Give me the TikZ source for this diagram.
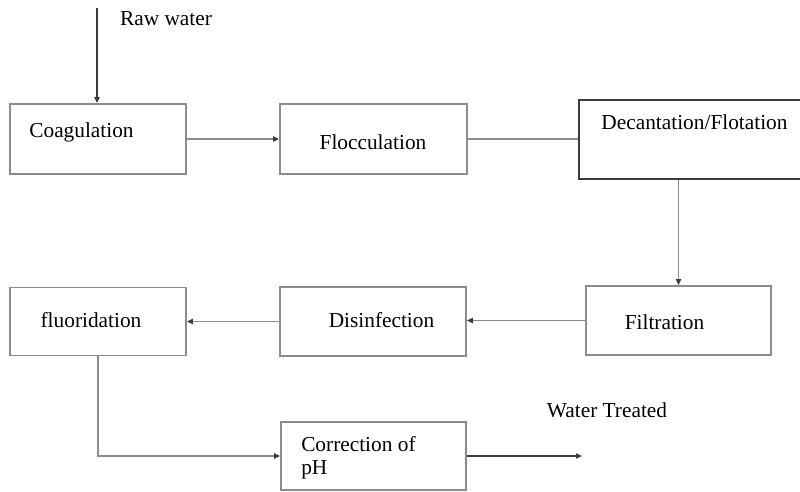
\documentclass[tikz,border=0pt]{standalone}
\usepackage{fontspec}
\setmainfont{Liberation Serif}
\usepackage{xcolor}
\usepackage{tikz}
\usetikzlibrary{arrows.meta}
\usetikzlibrary{positioning}

\definecolor{boxgray}{HTML}{8C8C8C}
\definecolor{darkline}{HTML}{3C3C3C}

\tikzset{
  blok/.style={draw=boxgray, line width=1.2pt, rectangle, inner sep=0pt},
  lbl/.style={inner sep=0.75pt, font=\fontsize{16}{17.5}\selectfont, text=black},
  flow/.style={draw=boxgray, line width=1.2pt, -{Triangle[length=4.5pt,width=3.8pt,color=darkline]}},
}

\begin{document}
\begin{tikzpicture}[x=0.75pt,y=0.75pt,yscale=-1,xscale=1]
  %set diagram frame: 800 x 492
  \clip (0,0) rectangle (800,492);

    % Boxes
    \node [blok, minimum width=132pt, minimum height=52.5pt] (coag) at (98,139) {};
    \node [blok, minimum width=140.25pt, minimum height=52.5pt] (floc) at (373.5,139) {};
    \node [blok, draw=darkline, minimum width=169.5pt, minimum height=59.25pt] (decant) at (692,139.5) {};
    \node [blok, minimum width=138.75pt, minimum height=51.75pt] (filt) at (678.5,320.5) {};
    \node [blok, minimum width=139.5pt, minimum height=51.75pt] (disinf) at (373,321.5) {};
    \node [blok, minimum width=132pt, minimum height=51pt] (fluor) at (98,321.5) {};
    \node [blok, minimum width=138.75pt, minimum height=51pt] (corr) at (373.5,456) {};

    % Text Node
    \node [lbl] (rawtxt) at (166,19) {Raw water};
    \node [lbl] (coagtxt) at (81.5,132) {Coagulation};
    \node [lbl] (floctxt) at (373,142) {Flocculation};
    \node [lbl] (decanttxt) at (694.5,122) {Decantation/Flotation};
    \node [lbl] (filttxt) at (664.5,322) {Filtration};
    \node [lbl] (disinftxt) at (381.5,320) {Disinfection};
    \node [lbl] (fluortxt) at (91,320) {fluoridation};
    \node [lbl, anchor=west, align=left] (corrtxt) at (300,458) {Correction of\\pH};
    \node [lbl] (treatedtxt) at (607,410) {Water Treated};

    % Connectors
    \coordinate (rawtop) at (97,8);
    \coordinate (outend) at (582,456);
    \draw [flow, draw=darkline] (rawtop) -- (rawtop |- coag.north);
    \draw [flow] (coag.east) -- (floc.west);
    \draw [draw=boxgray, line width=1.2pt] (floc.east) -- (floc.east -| decant.west);
    \draw [flow] (filt.north |- decant.south) -- (filt.north);
    \draw [flow] (filt.west) -- (filt.west -| disinf.east);
    \draw [flow] (disinf.west) -- (disinf.west -| fluor.east);
    \draw [flow] (fluor.south) -- (fluor.south |- corr.west) -- (corr.west);
    \draw [flow, draw=darkline, line width=2pt] (corr.east) -- (outend);

  \end{tikzpicture}
\end{document}
